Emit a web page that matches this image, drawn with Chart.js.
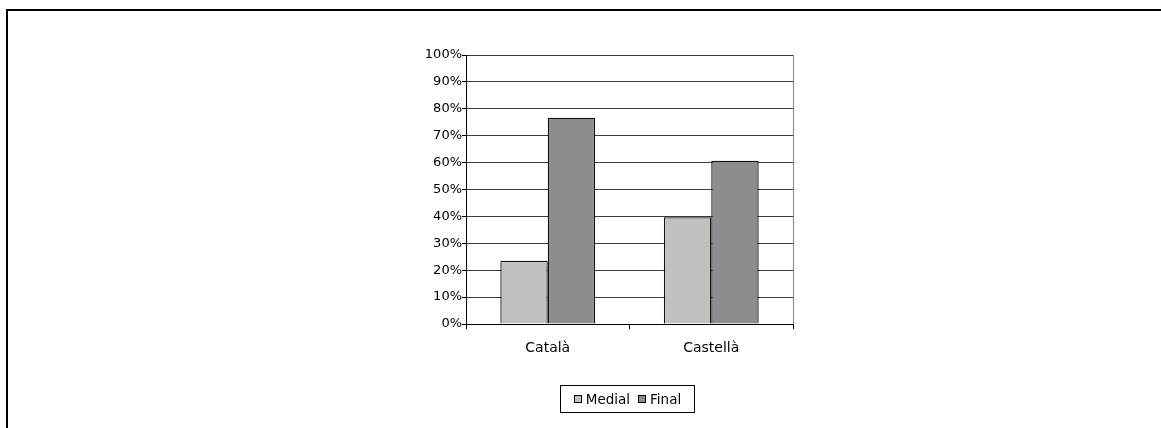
<!DOCTYPE html>
<html>
<head>
<meta charset="utf-8">
<script src="https://cdn.jsdelivr.net/npm/chart.js@4"></script>
<style>
  body { margin: 0; background: #fff; font-family: "DejaVu Sans", sans-serif; }
  #wrap { position: relative; width: 1161px; height: 428px; overflow: hidden; }
  #frame { position: absolute; left: 6px; top: 9px; width: 1200px; height: 500px;
           border-top: 2px solid #000; border-left: 2px solid #000; }
  canvas { position: absolute; left: 0; top: 0; }
  #legend { position: absolute; left: 560px; top: 385px; width: 135px; height: 28px;
            border: 1px solid #000; box-sizing: border-box; display: flex;
            align-items: center; justify-content: center; gap: 8px; font-size: 13.5px; color: #000; }
  #legend span.box { display: inline-block; width: 6px; height: 6px; border: 1px solid #000; margin-right: 4px; vertical-align: middle; position: relative; top: -1px; }
</style>
</head>
<body>
<div id="wrap">
  <div id="frame"></div>
  <canvas id="chart" width="1161" height="428"></canvas>
  <div id="legend"></div>
</div>
<script>
// values (percent)
const categories = ['Català', 'Castellà'];
const medial = [23.5, 39.7];
const final = [76.7, 60.7];
const seriesNames = ['Medial', 'Final'];
const seriesColors = ['#c0c2c0', '#8c8d8f'];

// right edge of the plot area, drawn in grey like the top line
const plotBorder = {
  id: 'plotBorder',
  afterDraw(chart) {
    const a = chart.chartArea;
    const ctx = chart.ctx;
    ctx.save();
    ctx.strokeStyle = '#8a8a8a';
    ctx.lineWidth = 1;
    ctx.beginPath();
    ctx.moveTo(Math.round(a.right) + 0.5, a.top);
    ctx.lineTo(Math.round(a.right) + 0.5, a.bottom);
    ctx.stroke();
    ctx.restore();
  }
};

const ctx = document.getElementById('chart').getContext('2d');
new Chart(ctx, {
  type: 'bar',
  data: {
    labels: categories,
    datasets: [
      { label: seriesNames[0], data: medial, backgroundColor: seriesColors[0], borderColor: '#111', borderWidth: 1.3 },
      { label: seriesNames[1], data: final, backgroundColor: seriesColors[1], borderColor: '#111', borderWidth: 1.3 }
    ]
  },
  options: {
    responsive: false,
    animation: false,
    layout: { padding: { left: 416, right: 368, top: 55, bottom: 64 } },
    datasets: { bar: { categoryPercentage: 0.58, barPercentage: 1 } },
    plugins: { legend: { display: false }, tooltip: { enabled: false } },
    scales: {
      x: {
        afterFit(scale) { scale.height = 40; },
        grid: { display: true, drawOnChartArea: false, tickLength: 5, tickColor: '#000' },
        border: { color: '#000', width: 1 },
        ticks: { color: '#000', font: { family: 'DejaVu Sans', size: 14 }, padding: 11 }
      },
      y: {
        min: 0,
        max: 100,
        afterFit(scale) { scale.width = 50; },
        grid: { color: '#3a3a3a', tickLength: 4, tickColor: '#000' },
        border: { color: '#000', width: 1 },
        ticks: {
          stepSize: 10,
          color: '#000',
          padding: 0,
          font: { family: 'DejaVu Sans', size: 13 },
          callback: v => v + '%'
        }
      }
    }
  },
  plugins: [plotBorder]
});

// legend box below the chart
const legend = document.getElementById('legend');
seriesNames.forEach((name, i) => {
  const item = document.createElement('span');
  const box = document.createElement('span');
  box.className = 'box';
  box.style.background = seriesColors[i];
  item.appendChild(box);
  item.appendChild(document.createTextNode(name));
  legend.appendChild(item);
});
</script>
</body>
</html>
